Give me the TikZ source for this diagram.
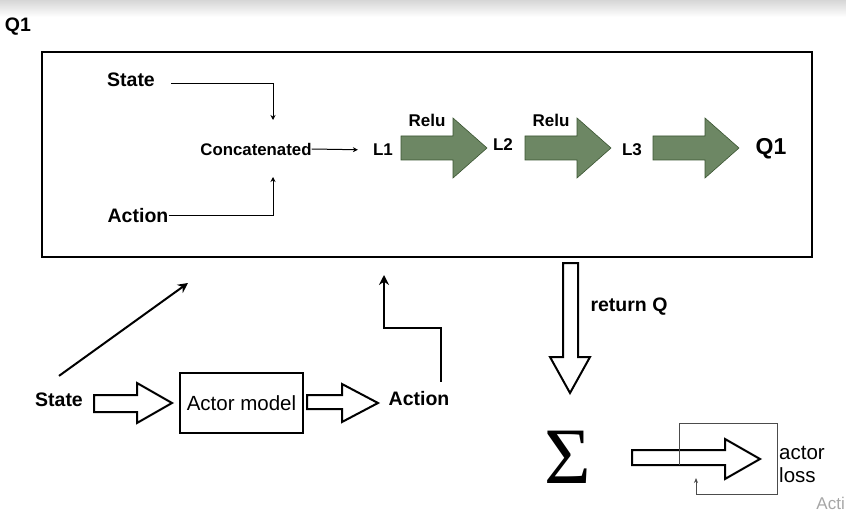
\documentclass[tikz,border=0pt]{standalone}
\usepackage{fontspec}
\setmainfont{Liberation Sans}
\newfontfamily\sigmafont{Liberation Serif}
\usetikzlibrary{arrows.meta}
\definecolor{layergreen}{HTML}{6D8764}
\definecolor{layeredge}{HTML}{3A5431}
\tikzstyle{boldtext} = [font=\bfseries\fontsize{19.5}{22}\selectfont, inner sep=0pt]
\tikzstyle{layertext} = [font=\bfseries\fontsize{17}{20}\selectfont, inner sep=0pt]
\tikzstyle{plaintext} = [font=\fontsize{20.5}{23}\selectfont, inner sep=0pt]
\tikzstyle{link} = [line width=1pt,-{Stealth[length=5pt,width=5pt]}]
\tikzstyle{bigarrow} = [line width=2pt,-{Stealth[length=10pt,width=10pt]}]
\tikzstyle{layer} = [fill=layergreen, draw=layeredge, line width=0.6pt]
\tikzstyle{hollow} = [draw=black, fill=white, line width=2pt, line join=miter]

\begin{document}
\begin{tikzpicture}[x=1pt, y=-1pt]
\useasboundingbox (0,0) rectangle (846,513);
\shade[top color=black!16, bottom color=white] (0,0) rectangle (846,17);

\node(title) [boldtext] at (18,27) {Q1};
\node(critic) [draw, line width=2pt, minimum width=770pt, minimum height=205pt] at (427,154.5) {};

% critic network
\node(state1) [boldtext] at (131,80) {State};
\node(action1) [boldtext] at (138,216) {Action};
\node(concat) [font=\bfseries\fontsize{16.8}{19}\selectfont, inner sep=0pt] at (256,149) {Concatenated};
\coordinate(catA) at (273,120);
\coordinate(catB) at (273,177);
\node(l1) [layertext] at (383,150) {L1};
\node(l2) [layertext] at (503,145) {L2};
\node(l3) [layertext] at (632,150) {L3};
\node(relu1) [layertext] at (427,120) {Relu};
\node(relu2) [layertext] at (551,120) {Relu};
\node(q1) [font=\bfseries\fontsize{23}{26}\selectfont, inner sep=0pt] at (771,149) {Q1};

\draw [link] ([xshift=16pt,yshift=-4pt]state1.east) -| (catA);
\draw [link] (action1.east) -| (catB);
\draw [link, shorten >=15pt] (concat.east) -- (l1.west);

\filldraw [layer] (401,136) -- (453,136) -- (453,118) -- (487,148) -- (453,178) -- (453,160) -- (401,160) -- cycle;
\filldraw [layer] (525,136) -- (577,136) -- (577,118) -- (611,148) -- (577,178) -- (577,160) -- (525,160) -- cycle;
\filldraw [layer] (653,136) -- (705,136) -- (705,118) -- (739,148) -- (705,178) -- (705,160) -- (653,160) -- cycle;

% actor side
\node(state2) [boldtext] at (59,400) {State};
\node(actor) [draw, line width=1.6pt, minimum width=123pt, minimum height=60pt, plaintext] at (241.5,403) {Actor model};
\node(action2) [boldtext] at (419,399) {Action};
\coordinate(qin1) at (188,283);
\coordinate(qin2) at (384,275);

\draw [bigarrow] ([yshift=17pt]state2.north) -- (qin1);
\draw [bigarrow] ([xshift=22pt,yshift=10pt]action2.north) -- ++(0,-54) -| (qin2);

\draw [hollow] (94,395) -- (137,395) -- (137,383) -- (172,403) -- (137,423) -- (137,412) -- (94,412) -- cycle;
\draw [hollow] (307,395) -- (342,395) -- (342,384) -- (378,403) -- (342,422) -- (342,409) -- (307,409) -- cycle;

% loss
\node(retq) [boldtext] at (629,307) {return Q};
\draw [hollow] (563,263) -- (578,263) -- (578,357) -- (590,357) -- (570,393) -- (550,357) -- (563,357) -- cycle;
\node(sum) [inner sep=0pt, font=\sigmafont\fontsize{80}{80}\selectfont] at (568,457) {Σ};
\draw [hollow] (632,450) -- (725,450) -- (725,439) -- (760,459) -- (725,479) -- (725,465) -- (632,465) -- cycle;
\node(loss) [plaintext, align=left, anchor=west] at (779,464) {actor\\loss};
\coordinate(lossin) at (696,478);
\draw [line width=0.8pt, draw=black!70, -{Stealth[length=5pt,width=4pt]}] (679,465) -- (679,423) -- (777,423) -- (777,494) -| (lossin);

\node(mark) [font=\fontsize{17}{20}\selectfont, inner sep=0pt, text=black!35, anchor=east] at (845,503) {Acti};

\end{tikzpicture}
\end{document}
